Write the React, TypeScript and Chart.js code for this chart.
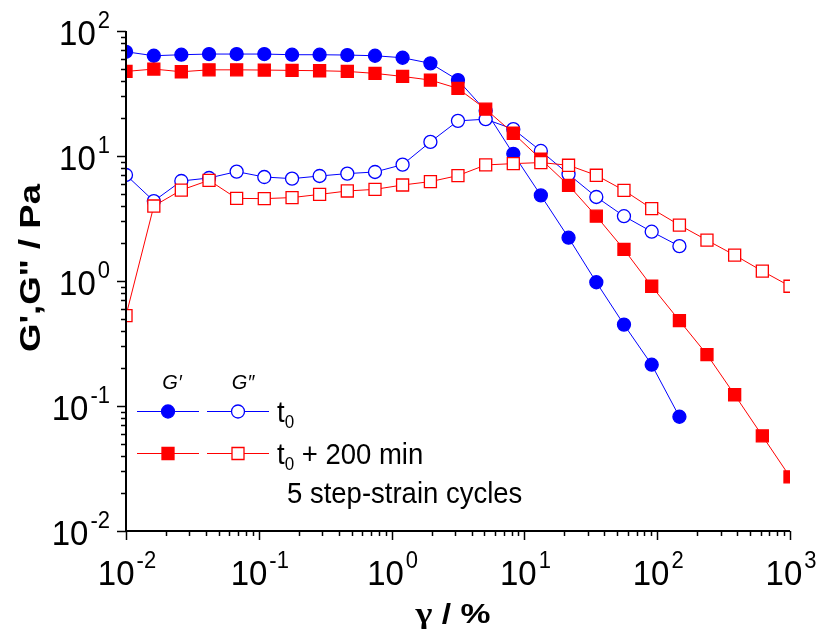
import { useEffect, useRef } from "react";
import { Chart, registerables } from "chart.js";

Chart.register(...registerables);

// strain amplitude γ / %
const STRAIN = [
  0.01, 0.0162, 0.0261, 0.0422, 0.0681, 0.11, 0.178, 0.287, 0.464, 0.75, 1.21, 1.96, 3.16,
  5.11, 8.25, 13.3, 21.5, 34.8, 56.2, 90.9, 147, 237, 383, 619, 1000,
];
// G' at t0
const GP_T0 = [
  68.2, 63.4, 64.6, 65.4, 65.4, 65.4, 64.6, 64.6, 64.2, 63.4, 61.1, 55.1, 40.5, 23, 10.4, 4.84,
  2.22, 0.977, 0.448, 0.214, 0.082,
];
// G'' at t0
const GPP_T0 = [
  7.05, 4.36, 6.31, 6.67, 7.5, 6.79, 6.59, 6.92, 7.23, 7.45, 8.53, 12.97, 19.1, 19.7, 16.4, 10.97,
  7.14, 4.7, 3.3, 2.48, 1.9,
];
// G' at t0 + 200 min
const GP_T200 = [
  47.5, 49.6, 47.2, 48.9, 48.9, 48.7, 48.4, 48.1, 47.5, 45.8, 43.3, 40.5, 34.7, 23.7, 15.2, 9.42,
  5.83, 3.3, 1.79, 0.908, 0.482, 0.258, 0.123, 0.0577, 0.0271,
];
// G'' at t0 + 200 min
const GPP_T200 = [
  0.529, 3.98, 5.34, 6.39, 4.58, 4.56, 4.65, 4.93, 5.25, 5.41, 5.86, 6.24, 6.97, 8.48, 8.69, 8.86,
  8.43, 7.01, 5.31, 3.79, 2.8, 2.12, 1.61, 1.2, 0.908,
];

const X_EXPONENTS = ["-2", "-1", "0", "1", "2", "3"];
const Y_EXPONENTS = ["-2", "-1", "0", "1", "2"];
const X_TITLE_SYMBOL = "γ";
const X_TITLE_REST = " / %";
const Y_TITLE = "G',G\" / Pa";
const LEGEND_HEADERS = ["G′", "G″"];
const LEGEND_MAIN = ["t", "t"];
const LEGEND_SUB = ["0", "0"];
const LEGEND_REST = ["", " + 200 min"];
const NOTE = "5 step-strain cycles";

const BLUE = "#0000ff";
const RED = "#ff0000";
const FAM = '"Liberation Sans", Arial, sans-serif';
const SERIF = '"Liberation Serif", "DejaVu Serif", serif';

const pts = (ys: number[]) => ys.map((y, i) => ({ x: STRAIN[i], y }));

function drawPow(ctx: CanvasRenderingContext2D, exp: string, x: number, baseY: number, align: "center" | "right") {
  const baseFont = `33px ${FAM}`;
  const supFont = `22px ${FAM}`;
  ctx.font = baseFont;
  const w1 = ctx.measureText("10").width;
  ctx.font = supFont;
  const w2 = ctx.measureText(exp).width;
  const gap = 2;
  const total = w1 + gap + w2;
  const left = align === "center" ? x - total / 2 : x - total;
  ctx.save();
  ctx.translate(left, baseY);
  ctx.scale(1, 1.09);
  ctx.textAlign = "left";
  ctx.textBaseline = "alphabetic";
  ctx.font = baseFont;
  ctx.fillText("10", 0, 0);
  ctx.font = supFont;
  ctx.fillText(exp, w1 + gap, -17 / 1.09);
  ctx.restore();
}

function stretchedText(
  ctx: CanvasRenderingContext2D,
  text: string,
  font: string,
  targetW: number,
  sy: number
) {
  ctx.font = font;
  const w = ctx.measureText(text).width;
  const sx = targetW / w;
  ctx.scale(sx, sy);
  ctx.textAlign = "center";
  ctx.textBaseline = "alphabetic";
  ctx.fillText(text, 0, 0);
}

function marker(ctx: CanvasRenderingContext2D, kind: "circle" | "rect", filled: boolean, color: string, x: number, y: number) {
  ctx.save();
  ctx.beginPath();
  if (kind === "circle") ctx.arc(x, y, 6.5, 0, Math.PI * 2);
  else ctx.rect(x - 6, y - 6, 12, 12);
  ctx.fillStyle = filled ? color : "#ffffff";
  ctx.fill();
  ctx.lineWidth = 1.3;
  ctx.strokeStyle = color;
  ctx.stroke();
  ctx.restore();
}

const decorPlugin = {
  id: "decor",
  afterDraw(chart: any) {
    const ctx: CanvasRenderingContext2D = chart.ctx;
    const xs = chart.scales.x;
    const ys = chart.scales.y;
    const a = chart.chartArea;
    ctx.save();
    ctx.strokeStyle = "#000";
    ctx.fillStyle = "#000";

    // axis lines
    ctx.lineWidth = 2;
    ctx.beginPath();
    ctx.moveTo(a.left, a.top);
    ctx.lineTo(a.left, a.bottom);
    ctx.lineTo(a.right, a.bottom);
    ctx.stroke();

    // ticks
    ctx.lineWidth = 1.5;
    const xMinE = Math.round(Math.log10(xs.min));
    const xMaxE = Math.round(Math.log10(xs.max));
    for (let e = xMinE; e <= xMaxE; e++) {
      for (let m = 1; m <= 9; m++) {
        if (e === xMaxE && m > 1) break;
        const px = Math.round(xs.getPixelForValue(m * Math.pow(10, e))) + 0.5;
        const len = m === 1 ? 9 : 5;
        ctx.beginPath();
        ctx.moveTo(px, a.bottom);
        ctx.lineTo(px, a.bottom + len);
        ctx.stroke();
      }
    }
    const yMinE = Math.round(Math.log10(ys.min));
    const yMaxE = Math.round(Math.log10(ys.max));
    for (let e = yMinE; e <= yMaxE; e++) {
      for (let m = 1; m <= 9; m++) {
        if (e === yMaxE && m > 1) break;
        const py = Math.round(ys.getPixelForValue(m * Math.pow(10, e))) + 0.5;
        const len = m === 1 ? 9 : 5;
        ctx.beginPath();
        ctx.moveTo(a.left, py);
        ctx.lineTo(a.left - len, py);
        ctx.stroke();
      }
    }

    // tick labels
    X_EXPONENTS.forEach((ex) => {
      const px = xs.getPixelForValue(Math.pow(10, Number(ex)));
      drawPow(ctx, ex, px + 1, a.bottom + 54, "center");
    });
    Y_EXPONENTS.forEach((ex) => {
      const py = ys.getPixelForValue(Math.pow(10, Number(ex)));
      drawPow(ctx, ex, a.left - 16, py + 14, "right");
    });

    // x axis title: gamma in serif (symbol-like), rest in sans bold
    ctx.save();
    {
      const f1 = `bold 30px ${SERIF}`;
      const f2 = `bold 28px ${FAM}`;
      ctx.font = f1;
      const w1 = ctx.measureText(X_TITLE_SYMBOL).width;
      ctx.font = f2;
      const w2 = ctx.measureText(X_TITLE_REST).width;
      const sx = 75 / (w1 + w2);
      const cx = 453;
      ctx.translate(cx - 37.5, 623);
      ctx.scale(sx, 1);
      ctx.textAlign = "left";
      ctx.textBaseline = "alphabetic";
      ctx.font = f1;
      ctx.fillText(X_TITLE_SYMBOL, 0, 0);
      ctx.font = f2;
      ctx.fillText(X_TITLE_REST, w1, 0);
    }
    ctx.restore();

    ctx.save();
    ctx.translate(40, 268);
    ctx.rotate(-Math.PI / 2);
    stretchedText(ctx, Y_TITLE, `bold 29px ${FAM}`, 168, 1);
    ctx.restore();

    // legend
    ctx.font = `italic 20px ${FAM}`;
    ctx.textAlign = "center";
    ctx.textBaseline = "alphabetic";
    ctx.fillText(LEGEND_HEADERS[0], 172, 389);
    ctx.fillText(LEGEND_HEADERS[1], 243, 389);
    const rows = [
      { y: 411.5, color: BLUE, kind: "circle" as const },
      { y: 453.5, color: RED, kind: "rect" as const },
    ];
    rows.forEach((r, i) => {
      ctx.save();
      ctx.strokeStyle = r.color;
      ctx.lineWidth = 1;
      ctx.beginPath();
      ctx.moveTo(137, r.y);
      ctx.lineTo(199, r.y);
      ctx.moveTo(207, r.y);
      ctx.lineTo(269, r.y);
      ctx.stroke();
      ctx.restore();
      marker(ctx, r.kind, true, r.color, 168, r.y);
      marker(ctx, r.kind, false, r.color, 238, r.y);

      ctx.save();
      ctx.fillStyle = "#000";
      ctx.textAlign = "left";
      ctx.textBaseline = "alphabetic";
      ctx.translate(277, r.y + 10);
      ctx.scale(1, 1.08);
      ctx.font = `27.5px ${FAM}`;
      ctx.fillText(LEGEND_MAIN[i], 0, 0);
      const wt = ctx.measureText(LEGEND_MAIN[i]).width;
      ctx.font = `17px ${FAM}`;
      ctx.fillText(LEGEND_SUB[i], wt, 6);
      const ws = ctx.measureText(LEGEND_SUB[i]).width;
      ctx.font = `27.5px ${FAM}`;
      ctx.fillText(LEGEND_REST[i], wt + ws, 0);
      ctx.restore();
    });
    ctx.save();
    ctx.fillStyle = "#000";
    ctx.textAlign = "left";
    ctx.translate(287, 503);
    ctx.scale(1, 1.08);
    ctx.font = `27.5px ${FAM}`;
    ctx.fillText(NOTE, 0, 0);
    ctx.restore();

    ctx.restore();
  },
};

export default function App() {
  const ref = useRef<HTMLCanvasElement>(null);
  useEffect(() => {
    if (!ref.current) return;
    const common = { showLine: true, borderWidth: 1, pointBorderWidth: 1.3, pointHoverRadius: 0 };
    const chart = new Chart(ref.current, {
      type: "scatter",
      data: {
        datasets: [
          {
            ...common,
            label: "G'' t0+200",
            data: pts(GPP_T200),
            borderColor: RED,
            pointBorderColor: RED,
            pointBackgroundColor: "#ffffff",
            pointStyle: "rect",
            pointRadius: 8.5,
            order: 0,
          },
          {
            ...common,
            label: "G' t0+200",
            data: pts(GP_T200),
            borderColor: RED,
            pointBorderColor: RED,
            pointBackgroundColor: RED,
            pointStyle: "rect",
            pointRadius: 8.5,
            order: 1,
          },
          {
            ...common,
            label: "G'' t0",
            data: pts(GPP_T0),
            borderColor: BLUE,
            pointBorderColor: BLUE,
            pointBackgroundColor: "#ffffff",
            pointStyle: "circle",
            pointRadius: 6.5,
            order: 2,
          },
          {
            ...common,
            label: "G' t0",
            data: pts(GP_T0),
            borderColor: BLUE,
            pointBorderColor: BLUE,
            pointBackgroundColor: BLUE,
            pointStyle: "circle",
            pointRadius: 6.5,
            order: 3,
          },
        ],
      },
      options: {
        animation: false,
        responsive: false,
        devicePixelRatio: 1,
        layout: { padding: { left: 126, right: 32, top: 31, bottom: 103 } },
        plugins: { legend: { display: false }, tooltip: { enabled: false }, title: { display: false } },
        events: [],
        scales: {
          x: { type: "logarithmic", min: 0.01, max: 1000, display: false },
          y: { type: "logarithmic", min: 0.01, max: 100, display: false },
        },
      },
      plugins: [decorPlugin],
    });
    return () => chart.destroy();
  }, []);
  return (
    <div style={{ position: "absolute", left: 0, top: 0, width: 822, height: 634, background: "#fff" }}>
      <canvas ref={ref} width={822} height={634} style={{ display: "block" }} />
    </div>
  );
}
